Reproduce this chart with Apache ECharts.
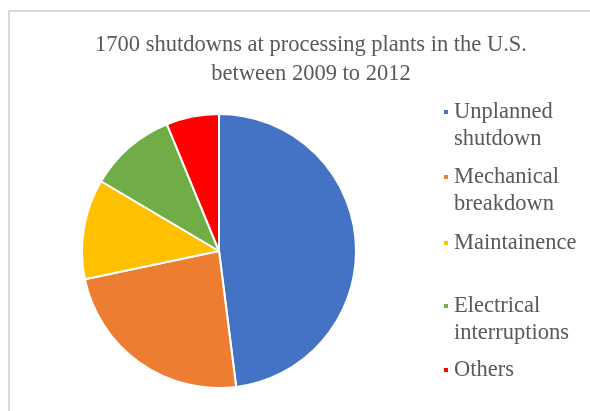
<!DOCTYPE html>
<html>
<head>
<meta charset="utf-8">
<script src="https://cdn.jsdelivr.net/npm/echarts@6/dist/echarts.min.js"></script>
<style>
  html, body { margin: 0; padding: 0; background: #fff; overflow: hidden; }
  #frame {
    position: absolute; left: 8px; top: 10px; width: 600px; height: 420px;
    border-left: 2px solid #d9d9d9; border-top: 2px solid #d9d9d9;
  }
  #chart { position: absolute; left: 0; top: 0; width: 590px; height: 411px; }
</style>
</head>
<body>
<div id="frame"></div>
<div id="chart"></div>
<script>
// 数据：各类停机原因占比（读图估计，%）
const categories = ['Unplanned shutdown', 'Mechanical breakdown', 'Maintainence', 'Electrical interruptions', 'Others']
const legendLabels = ['Unplanned\nshutdown', 'Mechanical\nbreakdown', 'Maintainence', 'Electrical\ninterruptions', 'Others']
const values = [48, 23.7, 11.8, 10.3, 6.2]
const colors = ['#4472C4', '#ED7D31', '#FFC000', '#70AD47', '#FF0000']

// 图例首行中心 y（原图间距不均）
const legendRows = [112, 177, 243, 306, 370]
const LINE_H = 27

const chart = echarts.init(document.getElementById('chart'))

// 每个图例项单独放置；两行文字前补一空行，使图标对齐首行
const legends = categories.map((name, i) => {
  const twoLine = legendLabels[i].indexOf('\n') >= 0
  return {
    data: [name],
    left: 442,
    top: legendRows[i] - LINE_H / 2 - (twoLine ? LINE_H : 0),
    padding: 0,
    icon: 'rect',
    itemWidth: 6,
    itemHeight: 6,
    selectedMode: false,
    formatter: () => (twoLine ? '\n' : '') + legendLabels[i],
    textStyle: {
      fontFamily: 'Liberation Serif',
      fontSize: 22.5,
      lineHeight: LINE_H,
      color: '#595959'
    }
  }
})

chart.setOption({
  animation: false,
  title: {
    text: '1700 shutdowns at processing plants in the U.S.\nbetween 2009 to 2012',
    left: 306,
    textAlign: 'center',
    top: 25,
    textStyle: {
      fontFamily: 'Liberation Serif',
      fontSize: 22.5,
      fontWeight: 'normal',
      lineHeight: 29.5,
      color: '#595959'
    }
  },
  legend: legends,
  series: [{
    type: 'pie',
    center: [219, 251],
    radius: 137,
    startAngle: 90,
    clockwise: true,
    label: { show: false },
    labelLine: { show: false },
    emphasis: { disabled: true },
    itemStyle: { borderColor: '#fff', borderWidth: 2 },
    data: categories.map((name, i) => ({
      name,
      value: values[i],
      itemStyle: { color: colors[i] }
    }))
  }]
})
</script>
</body>
</html>
